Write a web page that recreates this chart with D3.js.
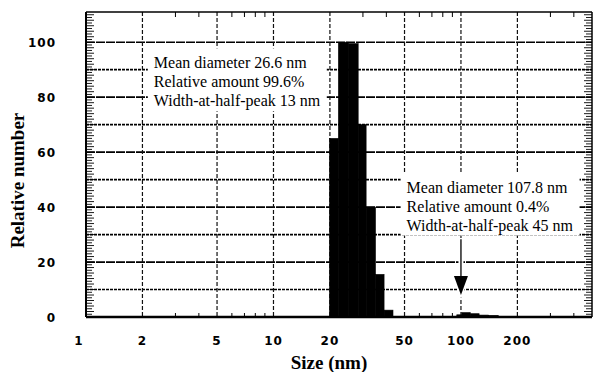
<!DOCTYPE html>
<html>
<head>
<meta charset="utf-8">
<script src="https://cdn.jsdelivr.net/npm/d3@7/dist/d3.min.js"></script>
<style>
    body { margin: 0; background: #fff; }
    .tick-label { font-family: "DejaVu Sans", sans-serif; font-weight: bold; font-size: 12px; letter-spacing: 1px; }
    .axis-title { font-family: "Liberation Serif", "Times New Roman", serif; font-weight: bold; font-size: 19px; }
    .note { font-family: "Liberation Serif", "Times New Roman", serif; font-size: 16px; }
</style>
</head>
<body>
<svg id="chart" width="594" height="372"></svg>
<script>
// histogram bins (nm) and relative number, main peak
const main_edges = [19.9, 22.2, 25.0, 28.3, 31.2, 35.0, 38.9, 43.4];
const main_values = [65, 100, 99.5, 70, 40, 15.5, 2.5];
// small second population around 100 nm
const tail_edges = [95, 101, 112, 125, 140, 158];
const tail_values = [0.8, 1.6, 1.2, 0.7, 0.6];

const x_ticks = [1, 2, 5, 10, 20, 50, 100, 200];
const x_grid = [2, 5, 10, 20, 50, 100, 200];
const x_minor = [3, 4, 6, 7, 8, 9, 30, 40, 60, 70, 80, 90, 300, 400];
const y_ticks = [0, 20, 40, 60, 80, 100];
const y_grid = [10, 20, 30, 40, 50, 60, 70, 80, 90, 100];

const note_main = ['Mean diameter 26.6 nm', 'Relative amount 99.6%', 'Width-at-half-peak 13 nm'];
const note_tail = ['Mean diameter 107.8 nm', 'Relative amount 0.4%', 'Width-at-half-peak 45 nm'];
const note_main_at = [2.3, 90.5];
const note_tail_at = [51.3, 45.3];
const arrow_at = [100, 28.3, 8];


function draw() {
    const svg = d3.select('#chart');
    const left = 86, right = 592, top = 12, bottom = 317;

    const x = d3.scaleLog().domain([1, 500]).range([left, right]);
    const y = d3.scaleLinear().domain([0, 111]).range([bottom, top]);

    // grid
    svg.append('g')
        .selectAll('line')
        .data(y_grid)
        .join('line')
        .attr('x1', left).attr('x2', right)
        .attr('y1', d => y(d)).attr('y2', d => y(d))
        .attr('stroke', '#000')
        .attr('stroke-width', 1.7)
        .attr('stroke-dasharray', d => d % 20 === 0 ? '9,1' : '3,1');

    svg.append('g')
        .selectAll('line')
        .data(x_grid)
        .join('line')
        .attr('x1', d => x(d)).attr('x2', d => x(d))
        .attr('y1', top).attr('y2', bottom)
        .attr('stroke', '#111')
        .attr('stroke-width', 1.2)
        .attr('stroke-dasharray', '4,2');

    // bars
    const bars = main_values.map((v, i) => [main_edges[i], main_edges[i + 1], v])
        .concat(tail_values.map((v, i) => [tail_edges[i], tail_edges[i + 1], v]));
    svg.append('g')
        .selectAll('rect')
        .data(bars)
        .join('rect')
        .attr('x', d => x(d[0]))
        .attr('width', d => x(d[1]) - x(d[0]))
        .attr('y', d => y(d[2]))
        .attr('height', d => y(0) - y(d[2]))
        .attr('fill', '#000')
        .attr('stroke', '#000')
        .attr('stroke-width', 0.6);

    // notes with white backing
    function note(lines, at) {
        const g = svg.append('g');
        const bg = g.append('rect').attr('fill', '#fff');
        const t = g.append('text')
            .attr('class', 'note')
            .attr('x', x(at[0]))
            .attr('y', y(at[1]))
            .attr('fill', '#000');
        t.selectAll('tspan')
            .data(lines)
            .join('tspan')
            .attr('x', x(at[0]))
            .attr('dy', (d, i) => i === 0 ? 0 : 19)
            .text(d => d);
        const box = t.node().getBBox();
        bg.attr('x', box.x - 6).attr('y', box.y - 6)
            .attr('width', box.width + 12).attr('height', box.height + 7);
    }
    note(note_main, note_main_at);
    note(note_tail, note_tail_at);

    // arrow
    const ax = x(arrow_at[0]);
    const ay0 = y(arrow_at[1]), ay1 = y(arrow_at[2]);
    const arrow = svg.append('g');
    arrow.append('line')
        .attr('x1', ax).attr('x2', ax).attr('y1', ay0).attr('y2', ay1 - 10)
        .attr('stroke', '#fff').attr('stroke-width', 5);
    arrow.append('path')
        .attr('d', `M${ax - 7},${ay1 - 19}L${ax + 7},${ay1 - 19}L${ax},${ay1}Z`)
        .attr('fill', '#000').attr('stroke', '#fff').attr('stroke-width', 3)
        .attr('paint-order', 'stroke');
    arrow.append('line')
        .attr('x1', ax).attr('x2', ax).attr('y1', ay0).attr('y2', ay1 - 15)
        .attr('stroke', '#000').attr('stroke-width', 1.3);

    // minor ticks, x (top and bottom, inward)
    svg.append('g')
        .selectAll('line')
        .data(x_minor)
        .join('line')
        .attr('x1', d => x(d)).attr('x2', d => x(d))
        .attr('y1', top).attr('y2', top + 5)
        .attr('stroke', '#000').attr('stroke-width', 1);
    svg.append('g')
        .selectAll('line')
        .data(x_minor)
        .join('line')
        .attr('x1', d => x(d)).attr('x2', d => x(d))
        .attr('y1', bottom).attr('y2', bottom - 4)
        .attr('stroke', '#000').attr('stroke-width', 1);

    // minor ticks, y (left and right comb)
    const y_minor = d3.range(1, 111);
    svg.append('g')
        .selectAll('line')
        .data(y_minor)
        .join('line')
        .attr('x1', left).attr('x2', d => left + (d % 2 ? 6 : 8))
        .attr('y1', d => y(d)).attr('y2', d => y(d))
        .attr('stroke', '#000').attr('stroke-width', 0.9);
    svg.append('g')
        .selectAll('line')
        .data(y_minor)
        .join('line')
        .attr('x1', right).attr('x2', d => right - (d % 2 ? 6 : 8))
        .attr('y1', d => y(d)).attr('y2', d => y(d))
        .attr('stroke', '#000').attr('stroke-width', 0.9);

    // frame
    svg.append('line').attr('x1', left).attr('x2', right).attr('y1', bottom).attr('y2', bottom)
        .attr('stroke', '#000').attr('stroke-width', 2.5);
    svg.append('line').attr('x1', left).attr('x2', right).attr('y1', top).attr('y2', top)
        .attr('stroke', '#000').attr('stroke-width', 1.5);
    svg.append('line').attr('x1', left).attr('x2', left).attr('y1', top).attr('y2', bottom)
        .attr('stroke', '#000').attr('stroke-width', 2);
    svg.append('line').attr('x1', right).attr('x2', right).attr('y1', top).attr('y2', bottom)
        .attr('stroke', '#000').attr('stroke-width', 1.5);

    // tick labels
    svg.append('g')
        .selectAll('text')
        .data(x_ticks)
        .join('text')
        .attr('class', 'tick-label')
        .attr('x', d => x(d) + (d === 1 ? -7 : 0))
        .attr('y', 345)
        .attr('text-anchor', 'middle')
        .text(d => d);
    svg.append('g')
        .selectAll('text')
        .data(y_ticks)
        .join('text')
        .attr('class', 'tick-label')
        .attr('x', 56)
        .attr('y', d => y(d) + 5)
        .attr('text-anchor', 'end')
        .text(d => d);

    // axis titles
    svg.append('text')
        .attr('class', 'axis-title')
        .attr('x', (left + right) / 2 - 10)
        .attr('y', 369)
        .attr('text-anchor', 'middle')
        .text('Size (nm)');
    svg.append('text')
        .attr('class', 'axis-title')
        .attr('transform', `translate(24, ${(top + bottom) / 2 + 16}) rotate(-90)`)
        .attr('text-anchor', 'middle')
        .text('Relative number');
}


draw();
</script>
</body>
</html>
